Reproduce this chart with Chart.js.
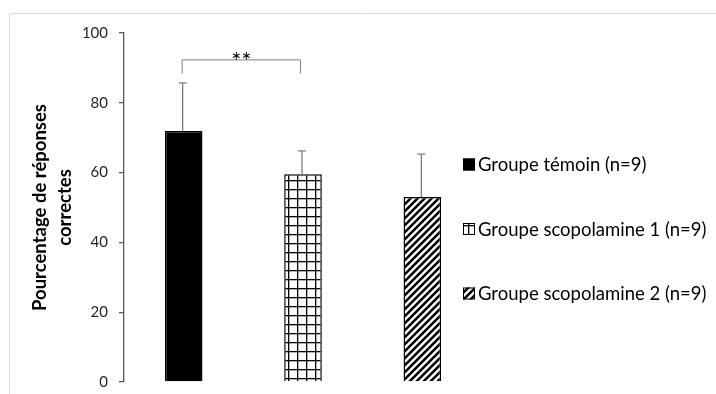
<!DOCTYPE html>
<html>
<head>
<meta charset="utf-8">
<script src="https://cdn.jsdelivr.net/npm/chart.js@4"></script>
<style>
  html, body { margin: 0; padding: 0; background: #fff; }
  #wrap { position: relative; width: 716px; height: 394px; }
</style>
</head>
<body>
<div id="wrap"><canvas id="chart" width="716" height="394"></canvas></div>
<script>
// Data
const groups = ['Groupe témoin (n=9)', 'Groupe scopolamine 1 (n=9)', 'Groupe scopolamine 2 (n=9)'];
const means = [71.9, 59.5, 53.0];
const errors = [13.8, 6.7, 12.3];
const yTicks = [0, 20, 40, 60, 80, 100];
const yTitle = ['Pourcentage de réponses', 'correctes'];
// significance bracket between group 0 and 1
const sigPair = [0, 1];
const sigLabel = '**';
const sigTop = 92.3;
const sigFoot = 88.4;

function gridPattern() {
    const c = document.createElement('canvas');
    c.width = 9; c.height = 9;
    const g = c.getContext('2d');
    g.fillStyle = '#fff';
    g.fillRect(0, 0, 9, 9);
    g.fillStyle = '#000';
    g.fillRect(0, 0, 9, 1.3);
    g.fillRect(0, 0, 1.3, 9);
    return g.createPattern(c, 'repeat');
}

function stripePattern() {
    const s = 7;
    const c = document.createElement('canvas');
    c.width = s; c.height = s;
    const g = c.getContext('2d');
    g.fillStyle = '#fff';
    g.fillRect(0, 0, s, s);
    g.strokeStyle = '#000';
    g.lineWidth = 2.6;
    g.beginPath();
    g.moveTo(-1, s + 1); g.lineTo(s + 1, -1);
    g.moveTo(-1, 1); g.lineTo(1, -1);
    g.moveTo(s - 1, s + 1); g.lineTo(s + 1, s - 1);
    g.stroke();
    return g.createPattern(c, 'repeat');
}

const fills = ['#000', gridPattern(), stripePattern()];

const frame = {
    id: 'frame',
    beforeDraw(chart) {
        const ctx = chart.ctx;
        ctx.save();
        ctx.strokeStyle = '#d9d9d9';
        ctx.lineWidth = 1;
        ctx.beginPath();
        ctx.moveTo(9.5, chart.height);
        ctx.lineTo(9.5, 13.5);
        ctx.lineTo(chart.width, 13.5);
        ctx.stroke();
        ctx.restore();
    }
};

const errorBars = {
    id: 'errorBars',
    afterDatasetsDraw(chart) {
        const ctx = chart.ctx;
        const y = chart.scales.y;
        const x = chart.scales.x;
        ctx.save();
        ctx.strokeStyle = '#7f7f7f';
        ctx.lineWidth = 1.3;
        chart.getDatasetMeta(0).data.forEach((bar, i) => {
            const top = y.getPixelForValue(means[i] + errors[i]);
            const bx = bar.x - 1;
            ctx.beginPath();
            ctx.moveTo(bx, bar.y);
            ctx.lineTo(bx, top);
            ctx.moveTo(bx - 4, top);
            ctx.lineTo(bx + 4, top);
            ctx.stroke();
        });
        // significance bracket
        const x0 = x.getPixelForValue(sigPair[0]) - 1.5;
        const x1 = x.getPixelForValue(sigPair[1]) - 2.5;
        const yt = y.getPixelForValue(sigTop);
        const yf = y.getPixelForValue(sigFoot);
        ctx.strokeStyle = '#808080';
        ctx.lineWidth = 1;
        ctx.beginPath();
        ctx.moveTo(x0, yf);
        ctx.lineTo(x0, yt);
        ctx.lineTo(x1, yt);
        ctx.lineTo(x1, yf);
        ctx.stroke();
        ctx.fillStyle = '#000';
        ctx.font = '24px Lato';
        ctx.textAlign = 'center';
        ctx.textBaseline = 'middle';
        ctx.fillText(sigLabel, (x0 + x1) / 2, yt + 1);
        ctx.restore();
    }
};

const sideLegend = {
    id: 'sideLegend',
    afterDraw(chart) {
        const ctx = chart.ctx;
        const rows = [164.5, 229, 293.5];
        ctx.save();
        ctx.font = '18.5px Lato';
        ctx.textBaseline = 'middle';
        groups.forEach((label, i) => {
            const cy = rows[i];
            ctx.fillStyle = fills[i];
            ctx.fillRect(463, cy - 6, 12, 12);
            ctx.strokeStyle = '#000';
            ctx.lineWidth = 1;
            ctx.strokeRect(463.5, cy - 5.5, 11, 11);
            ctx.fillStyle = '#000';
            ctx.fillText(label, 478, cy + 1);
        });
        ctx.restore();
    }
};

new Chart(document.getElementById('chart'), {
    type: 'bar',
    data: {
        labels: groups,
        datasets: [{
            data: means,
            backgroundColor: fills,
            borderColor: '#000',
            borderWidth: 1.5,
            categoryPercentage: 1,
            barPercentage: 0.315
        }]
    },
    options: {
        responsive: false,
        animation: false,
        layout: { padding: { left: 28, right: 234, top: 33, bottom: 12 } },
        plugins: { legend: { display: false }, tooltip: { enabled: false } },
        scales: {
            x: { display: false },
            y: {
                min: 0,
                max: 100,
                afterBuildTicks(scale) { scale.ticks = yTicks.map(v => ({ value: v })); },
                afterFit(scale) {
                    scale.width = 96;
                    scale.paddingTop = 0;
                    scale.paddingBottom = 0;
                },
                border: { color: '#595959', width: 1.3 },
                grid: { drawOnChartArea: false, tickLength: 5, color: '#595959', lineWidth: 1.3 },
                ticks: { padding: 11, color: '#262626', font: { family: 'Lato', size: 15 } },
                title: {
                    display: true,
                    text: yTitle,
                    color: '#000',
                    padding: 0,
                    font: { family: 'Lato', size: 18.5, weight: 'bold', lineHeight: 1.32 }
                }
            }
        }
    },
    plugins: [frame, errorBars, sideLegend]
});
</script>
</body>
</html>
